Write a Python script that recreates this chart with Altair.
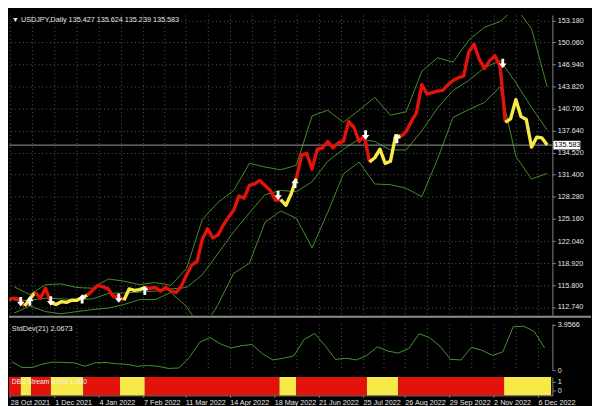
import altair as alt
import pandas as pd

# ---------------- data ----------------
TITLE = "\u25bc USDJPY,Daily  135.427 135.624 135.239 135.583"
STD_TITLE = "StdDev(21) 2.0673"
DBS_TITLE = "DBS Stream 0.000 1.000"
LAST_PRICE = 135.583

PRICE_START = "2021-10-27"   # one close every 4 calendar days
close = [
    113.8, 114.0, 113.8, 112.9, 113.9, 114.8, 114.0, 115.4, 113.4, 113.1,
    113.5, 113.4, 113.7, 113.7, 114.1, 114.4, 115.1, 115.8, 115.6, 115.3,
    114.2, 114.3, 113.7, 115.3, 115.1, 115.2, 115.5, 115.4, 115.5, 115.0,
    115.5, 115.0, 114.8, 115.7, 117.3, 118.7, 119.2, 122.3, 123.8, 122.5,
    122.9, 124.3, 125.4, 126.4, 128.4, 128.1, 129.9, 130.1, 130.6, 129.9,
    129.2, 127.8, 127.9, 127.1, 128.7, 130.9, 134.2, 134.4, 132.2, 135.0,
    135.2, 136.1, 135.2, 135.9, 136.1, 138.9, 138.1, 136.1, 136.9, 133.2,
    133.8, 135.0, 133.0, 133.3, 136.9, 136.8, 137.5, 138.9, 140.2, 144.1,
    142.8, 143.0, 143.2, 143.3, 144.1, 144.7, 145.1, 145.3, 148.7, 149.8,
    147.7, 146.4, 147.5, 148.2, 146.6, 138.8, 139.3, 142.0, 139.6, 139.2,
    135.3, 136.7, 136.6, 135.6,
]

BAND_START = "2021-10-31"    # one band value every 12 calendar days
band_upper = [
    115.6, 114.5, 115.9, 116.0, 115.5, 115.4, 116.7, 116.4, 115.9, 116.2,
    115.8, 118.2, 125.1, 127.5, 129.2, 133.0, 132.5, 132.1, 132.75, 139.7,
    140.5, 138.8, 140.5, 142.3, 139.8, 140.3, 146.0, 147.9, 147.3, 150.4,
    152.2, 153.0, 155.0, 152.0, 143.8,
]
band_middle = [
    113.7, 113.7, 114.0, 113.9, 113.8, 113.9, 114.65, 114.75, 114.85, 115.0,
    115.3, 115.5, 117.3, 120.3, 123.35, 126.0, 128.6, 129.2, 129.0, 130.4,
    133.3, 135.0, 136.45, 136.1, 134.9, 134.9, 137.6, 140.8, 143.3, 144.7,
    146.5, 147.5, 144.4, 140.9, 137.7,
]
band_lower = [
    111.9, 112.9, 112.1, 111.8, 112.1, 112.4, 112.6, 113.1, 113.8, 113.8,
    114.8, 112.8, 109.5, 113.1, 117.5, 118.9, 124.7, 126.3, 125.25, 121.1,
    126.1, 131.5, 133.2, 130.1, 130.0, 129.5, 128.3, 133.6, 139.5, 140.6,
    141.6, 143.8, 134.0, 130.8, 131.6,
]

SD_START = "2021-10-29"      # one StdDev value every 8 calendar days
stddev = [
    0.75, 0.24, 0.25, 0.55, 0.72, 0.68, 0.65, 0.35, 0.65, 0.68,
    0.57, 0.52, 0.35, 0.42, 0.35, 0.16, 0.20, 1.10, 2.45, 2.85,
    2.30, 1.95, 2.15, 2.25, 1.45, 0.90, 1.05, 1.25, 2.70, 3.20,
    2.15, 0.95, 1.05, 0.90, 1.30, 2.05, 1.68, 1.50, 1.90, 3.20,
    2.85, 2.10, 0.95, 0.90, 2.00, 1.75, 1.30, 1.60, 3.80, 3.85,
    3.40, 1.95,
]

dbs_start = ["2021-10-27", "2021-11-05", "2021-11-13", "2021-11-28", "2021-12-23",
             "2022-01-20", "2022-02-08", "2022-05-22", "2022-06-04", "2022-07-28",
             "2022-08-21", "2022-11-10"]
dbs_end = ["2021-11-05", "2021-11-13", "2021-11-28", "2021-12-23", "2022-01-20",
           "2022-02-08", "2022-05-22", "2022-06-04", "2022-07-28", "2022-08-21",
           "2022-11-10", "2022-12-16"]
dbs_state = ["up", "down", "up", "down", "up", "down", "up", "down", "up", "down", "up", "down"]

arrow_dates = ["2021-11-05", "2021-11-12", "2021-11-28", "2021-12-22", "2022-01-19",
               "2022-02-08", "2022-05-21", "2022-06-03", "2022-07-27", "2022-08-20",
               "2022-11-09"]
arrow_prices = [113.5, 113.6, 113.6, 113.9, 114.0, 115.1, 128.5, 130.2, 137.0, 136.5, 147.1]
arrow_dirs = ["down", "up", "down", "up", "down", "up", "down", "up", "down", "up", "down"]

date_labels = ["2021-10-28", "2021-12-01", "2022-01-04", "2022-02-07", "2022-03-11",
               "2022-04-14", "2022-05-18", "2022-06-21", "2022-07-25", "2022-08-26",
               "2022-09-29", "2022-11-02", "2022-12-06"]
price_ticks = [153.180, 150.060, 146.940, 143.820, 140.760, 137.640, 134.520,
               131.400, 128.280, 125.160, 122.040, 118.920, 115.800, 112.740]
sd_ticks = [0, 3.9566]
dbs_ticks = [0, 1]

# ---------------- styles ----------------
RED = "#e3120b"
YELLOW = "#f7ea48"
BAND = "#44922a"
SDC = "#3f9a2f"
GRID = "#5e5e5e"
TXT = "#e6e6e6"
FONT = "Liberation Sans"
W, H1, H2, H3 = 563, 311, 48, 19

UP_PATH = "M-0.3,1L0.3,1L0.3,0L0.8,0L0,-1L-0.8,0L-0.3,0Z"
DOWN_PATH = "M-0.3,-1L0.3,-1L0.3,0L0.8,0L0,1L-0.8,0L-0.3,0Z"


def iso(ts):
    return pd.Timestamp(ts).strftime("%Y-%m-%dT00:00:00")


def dt(s):
    t = pd.Timestamp(s)
    return alt.DateTime(year=t.year, month=t.month, date=t.day)


XDOM = [dt("2021-10-27"), dt("2022-12-17")]
label_ts = [pd.Timestamp(s) for s in date_labels]
grid_ts = sorted(label_ts + [a + (b - a) / 2 for a, b in zip(label_ts[:-1], label_ts[1:])])
grid_dt = [alt.DateTime(year=t.year, month=t.month, date=t.day) for t in grid_ts]
label_dt = [dt(s) for s in date_labels]

# ---------------- tables ----------------
pdates = pd.date_range(PRICE_START, periods=len(close), freq="4D")
rows = []
for b, (s, e, st) in enumerate(zip(dbs_start, dbs_end, dbs_state)):
    s, e = pd.Timestamp(s), pd.Timestamp(e)
    idx = [i for i, d in enumerate(pdates) if s <= d < e]
    if not idx:
        continue
    if idx[-1] + 1 < len(close):
        idx.append(idx[-1] + 1)
    for i in idx:
        rows.append({"date": iso(pdates[i]), "close": close[i], "seg": b, "state": st})
price_df = pd.DataFrame(rows)

bdates = [iso(d) for d in pd.date_range(BAND_START, periods=len(band_middle), freq="12D")]
band_df = pd.concat([
    pd.DataFrame({"date": bdates, "value": band_upper, "band": "upper"}),
    pd.DataFrame({"date": bdates, "value": band_middle, "band": "middle"}),
    pd.DataFrame({"date": bdates, "value": band_lower, "band": "lower"}),
])

sd_df = pd.DataFrame({
    "date": [iso(d) for d in pd.date_range(SD_START, periods=len(stddev), freq="8D")],
    "sd": stddev,
})

dbs_df = pd.DataFrame({"start": [iso(s) for s in dbs_start],
                       "end": [iso(e) for e in dbs_end],
                       "state": dbs_state})

arr_df = pd.DataFrame({"date": [iso(d) for d in arrow_dates],
                       "price": arrow_prices, "dir": arrow_dirs})
up_df = arr_df[arr_df["dir"] == "up"]
dn_df = arr_df[arr_df["dir"] == "down"]

last_df = pd.DataFrame({"price": [LAST_PRICE], "label": [f"{LAST_PRICE:.3f}"]})

# ---------------- encodings ----------------
xscale = alt.Scale(domain=XDOM)
xgrid = alt.X("date:T", scale=xscale,
              axis=alt.Axis(values=grid_dt, labels=False, ticks=False, domain=False,
                            grid=True, title=None))
yscale = alt.Scale(domain=[111.59, 153.93], nice=False, zero=False)
yaxis = alt.Axis(orient="right", values=price_ticks, format=".3f", grid=True, title=None,
                 labelOverlap=False)


def ym(field):
    return alt.Y(field, type="quantitative", scale=yscale, axis=yaxis)


state_color = alt.Color("state:N", scale=alt.Scale(domain=["up", "down"], range=[RED, YELLOW]),
                        legend=None)

bands = alt.Chart(band_df).mark_line(color=BAND, strokeWidth=1, clip=True).encode(
    x=xgrid, y=ym("value"), detail="band:N")
last_rule = alt.Chart(last_df).mark_rule(color="#9a9a9a", strokeWidth=1).encode(y=ym("price"))
price = alt.Chart(price_df).mark_line(strokeWidth=3.5, strokeJoin="round", clip=True).encode(
    x=xgrid, y=ym("close"), color=state_color, detail="seg:N")
ups = alt.Chart(up_df).mark_point(shape=UP_PATH, filled=True, color="white", size=95,
                                  opacity=1, strokeWidth=0).encode(x=xgrid, y=ym("price"))
dns = alt.Chart(dn_df).mark_point(shape=DOWN_PATH, filled=True, color="white", size=95,
                                  opacity=1, strokeWidth=0).encode(x=xgrid, y=ym("price"))
last_box = alt.Chart(last_df).mark_rule(color="white", strokeWidth=9).encode(
    y=ym("price"), x=alt.value(W + 1), x2=alt.value(W + 29))
last_txt = alt.Chart(last_df).mark_text(align="left", baseline="middle", fontSize=7.5,
                                        font=FONT, color="black").encode(
    y=ym("price"), x=alt.value(W + 2), text="label:N")
title_txt = alt.Chart(pd.DataFrame({"t": [TITLE]})).mark_text(
    align="left", baseline="middle", fontSize=7.5, font=FONT, color=TXT).encode(
    x=alt.value(3), y=alt.value(5), text="t:N")
sep = alt.Chart(pd.DataFrame({"t": [0]})).mark_rule(color="#8c8c8c", strokeWidth=2).encode(
    x=alt.value(0), x2=alt.value(W + 40), y=alt.value(H1 + 1.5))

main = alt.layer(bands, last_rule, price, ups, dns, last_box, last_txt, title_txt, sep).properties(
    width=W, height=H1)

sd_line = alt.Chart(sd_df).mark_line(color=SDC, strokeWidth=1).encode(
    x=xgrid,
    y=alt.Y("sd:Q", scale=alt.Scale(domain=[0, 4.05], nice=False),
            axis=alt.Axis(orient="right", values=sd_ticks, grid=False, title=None,
                          labelExpr="datum.value == 0 ? '0' : format(datum.value, '.4f')")))
sd_txt = alt.Chart(pd.DataFrame({"t": [STD_TITLE]})).mark_text(
    align="left", baseline="middle", fontSize=7.5, font=FONT, color=TXT).encode(
    x=alt.value(3), y=alt.value(5), text="t:N")
sdpanel = alt.layer(sd_line, sd_txt).properties(width=W, height=H2)

dbs_rect = alt.Chart(dbs_df).mark_rect().encode(
    x=alt.X("start:T", scale=xscale,
            axis=alt.Axis(values=label_dt, format="%-d %b %Y", labelAlign="left",
                          labelBaseline="top", labelOverlap=False, labelFlush=False,
                          labelBound=False, grid=False, title=None, tickSize=2,
                          labelPadding=1)),
    x2="end:T",
    y=alt.YDatum(1.5, type="quantitative", scale=alt.Scale(domain=[-0.5, 1.5], nice=False),
                 axis=alt.Axis(orient="right", values=dbs_ticks, format="d", grid=False,
                               title=None, labelOverlap=False)),
    y2=alt.Y2Datum(-0.5),
    color=state_color)
dbs_txt = alt.Chart(pd.DataFrame({"t": [DBS_TITLE]})).mark_text(
    align="left", baseline="middle", fontSize=7, font=FONT, color="#f0f0f0").encode(
    x=alt.value(3), y=alt.value(5), text="t:N")
dbspanel = alt.layer(dbs_rect, dbs_txt).properties(width=W, height=H3)

chart = alt.vconcat(main, sdpanel, dbspanel, spacing=3).properties(
    padding=0, background="black"
).configure_view(stroke=None).configure_axis(
    labelFont=FONT, labelColor=TXT, labelFontSize=7.5, gridColor=GRID, gridDash=[1, 3],
    gridWidth=1, gridOpacity=1, tickColor="#888888", domainColor="#888888", tickSize=3,
    labelPadding=2)

chart.save("out.html", embed_options={"renderer": "svg", "actions": False})
